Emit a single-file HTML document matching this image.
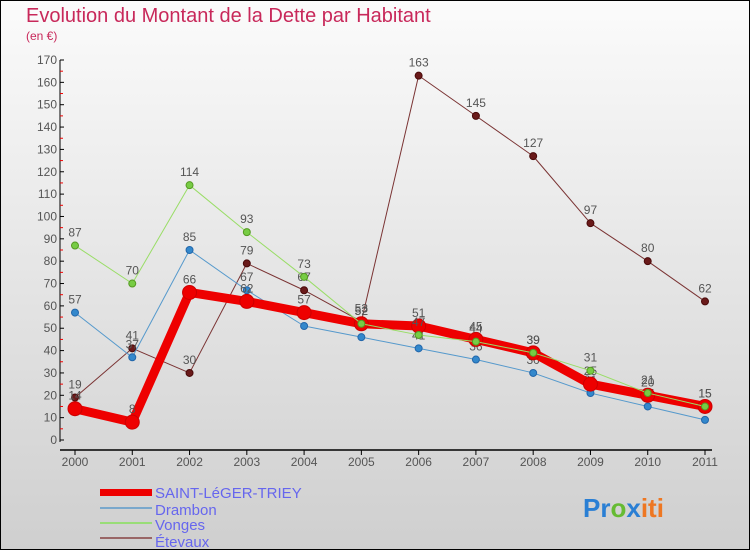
<!DOCTYPE html>
<html><head><meta charset="utf-8"><style>
html,body{margin:0;padding:0}
body{width:750px;height:550px;overflow:hidden;font-family:"Liberation Sans",sans-serif}
</style></head><body>
<svg id="chart" width="750" height="550" xmlns="http://www.w3.org/2000/svg" font-family="Liberation Sans, sans-serif">
<defs><linearGradient id="bg" x1="0" y1="0" x2="0" y2="1"><stop offset="0" stop-color="#fbfbfb"/><stop offset="1" stop-color="#cfcfcf"/></linearGradient></defs>
<rect x="0" y="0" width="750" height="550" fill="url(#bg)" stroke="#000" stroke-width="2"/>
<text x="26" y="22" font-size="20" fill="#c8285a">Evolution du Montant de la Dette par Habitant</text>
<text x="26" y="40" font-size="12" fill="#c8285a">(en €)</text>
<g id="axes"></g><g id="series"></g>
<g>
<rect x="100" y="489" width="52" height="7" fill="#ee0000"/>
<text x="155" y="498" font-size="15" fill="#6666ee">SAINT-LéGER-TRIEY</text>
<line x1="100" x2="152" y1="508" y2="508" stroke="#7aa8cc" stroke-width="2"/>
<text x="155" y="515" font-size="15" fill="#6666ee">Drambon</text>
<line x1="100" x2="152" y1="523" y2="523" stroke="#99dd77" stroke-width="2"/>
<text x="155" y="530" font-size="15" fill="#6666ee">Vonges</text>
<line x1="100" x2="152" y1="538" y2="538" stroke="#996666" stroke-width="2"/>
<text x="155" y="547" font-size="15" fill="#6666ee">Étevaux</text>
</g>
<text x="583" y="517" font-size="26" font-weight="bold"><tspan fill="#2a7fd4">Pr</tspan><tspan fill="#66bb33">o</tspan><tspan fill="#2a7fd4">x</tspan><tspan fill="#ee7722">iti</tspan></text>
</svg>
<script>
const years=[2000,2001,2002,2003,2004,2005,2006,2007,2008,2009,2010,2011];
const saintLeger=[14,8,66,62,57,52,51,45,39,25,20,15];
const drambon=[57,37,85,67,51,46,41,36,30,21,15,9];
const vonges=[87,70,114,93,73,52,47,44,39,31,21,15];
const etevaux=[19,41,30,79,67,53,163,145,127,97,80,62];
const yTicks=[0,10,20,30,40,50,60,70,80,90,100,110,120,130,140,150,160,170];
const NS="http://www.w3.org/2000/svg";
const x=i=>75+i*(630/11);
const y=v=>440-v*380/170;
function mk(tag,attrs,parent){const e=document.createElementNS(NS,tag);for(const k in attrs)e.setAttribute(k,attrs[k]);parent.appendChild(e);return e;}
const axes=document.getElementById('axes');
let a=mk('line',{x1:60,x2:60,y1:60,y2:442,stroke:'#000'},axes);


a=mk('line',{x1:60,x2:712,y1:450,y2:450,stroke:'#000','stroke-width':1.5},axes);


yTicks.forEach(v=>{
 mk('line',{x1:60,x2:64,y1:y(v),y2:y(v),stroke:'#000'},axes);
 if(v<170) mk('line',{x1:60,x2:63,y1:y(v+5),y2:y(v+5),stroke:'#e00'},axes);
 const t=mk('text',{x:57,y:y(v)+4,'font-size':12,fill:'#555','text-anchor':'end'},axes);t.textContent=v;
 
 
});
years.forEach((yr,i)=>{
 mk('line',{x1:x(i),x2:x(i),y1:450,y2:455,stroke:'#000'},axes);
 const t=mk('text',{x:x(i),y:466,'font-size':12,fill:'#555','text-anchor':'middle'},axes);t.textContent=yr;
 
 
});
const S=document.getElementById('series');
function draw(name,vals,color,w,r,dot,stroke){
 const g=mk('g',{},S);
 
 
 const pl=mk('polyline',{points:vals.map((v,i)=>x(i)+','+y(v)).join(' '),fill:'none',stroke:color,'stroke-width':w,'stroke-linejoin':'round'},g);
 
 
 vals.forEach((v,i)=>{
  const c=mk('circle',{cx:x(i),cy:y(v),r:r,fill:dot,stroke:stroke,'stroke-width':1},g);
  
  
  const t=mk('text',{x:x(i),y:y(v)-9,'font-size':12,fill:'#555','text-anchor':'middle'},g);t.textContent=v;
  
  
 });
}
draw('etevaux',etevaux,'#7a3333',1,3.5,'#6a1a1a','#4a0a0a');
draw('drambon',drambon,'#5599cc',1,3.5,'#3388cc','#2266aa');
draw('saint-leger',saintLeger,'#ee0000',9,7,'#ee0000','#cc0000');
draw('vonges',vonges,'#99dd66',1,3.5,'#77cc44','#559922');
</script>
</body></html>
